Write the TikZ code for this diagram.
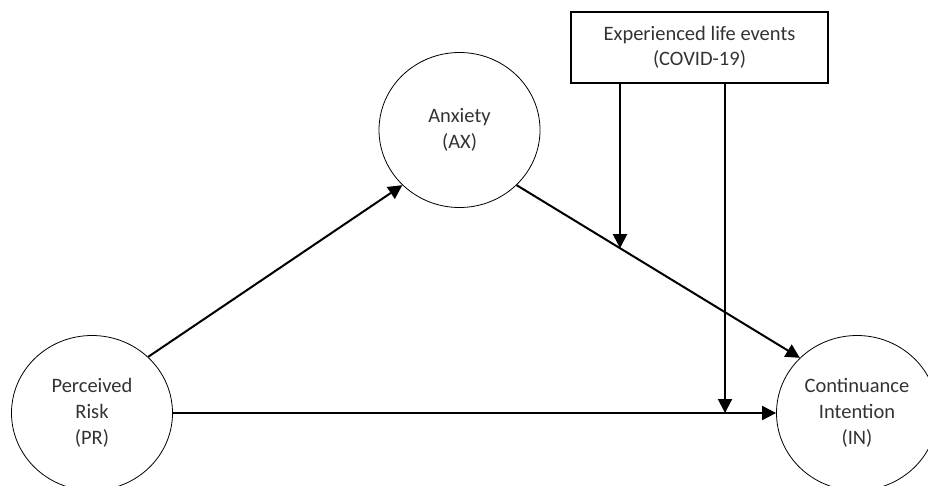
\documentclass[tikz,border=0pt]{standalone}
\usepackage{fontspec}
\setmainfont{Carlito}
\usetikzlibrary{arrows.meta,shapes.geometric,calc}
\begin{document}
\begin{tikzpicture}[x=1pt,y=-1pt,
  construct/.style={draw, ellipse, line width=0.8pt, minimum width=161pt, minimum height=155pt,
    inner sep=0pt, align=center, font=\fontsize{20.5}{26}\selectfont, text=black!80},
  modbox/.style={draw, rectangle, line width=1.8pt, minimum width=257pt, minimum height=71pt,
    inner sep=0pt, align=center, font=\fontsize{20.5}{25.5}\selectfont, text=black!80},
  link/.style={line width=2pt, -{Triangle[length=14pt,width=14pt]}}]
\useasboundingbox (0,0) rectangle (928,485);
\node[construct] (PR) at (92,413) {Perceived\\Risk\\(PR)};
\node[construct] (AX) at (459.5,130) {Anxiety\\(AX)};
\node[construct] (IN) at (857,413) {Continuance\\Intention\\(IN)};
\node[modbox] (EV) at (699.5,47.5) {Experienced life events\\(COVID-19)};
\draw[link] (PR.45) -- (AX.224);
\draw[link] (AX.-44) -- (IN.136);
\draw[link] (PR.east) -- (IN.west);
\coordinate (m1) at ($(AX.-44)!0.365!(IN.136)$);
\coordinate (m2) at (725,413);
\draw[link] (EV.south -| m1) -- (m1);
\draw[link] (EV.south -| m2) -- (m2);
\end{tikzpicture}
\end{document}
